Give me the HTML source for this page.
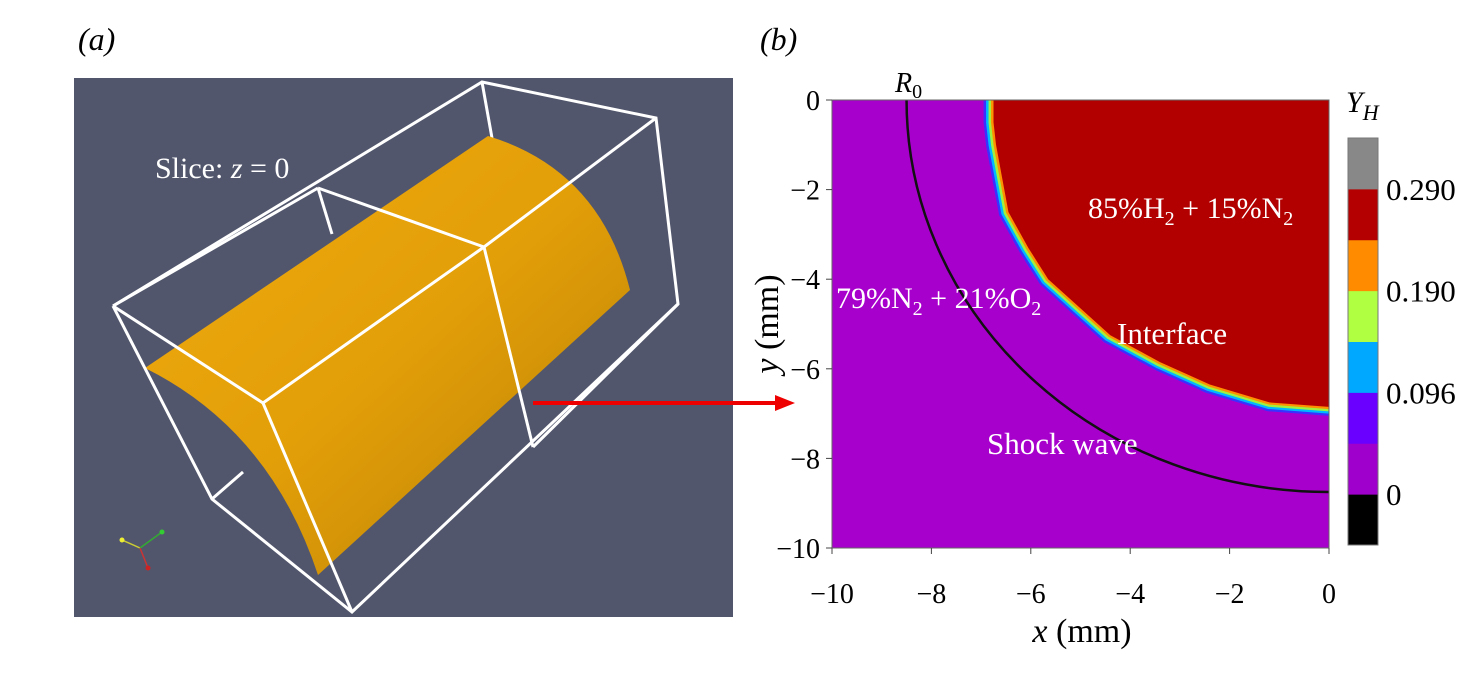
<!DOCTYPE html>
<html><head><meta charset="utf-8"><style>
body{margin:0;background:#fff;width:1469px;height:679px;overflow:hidden;font-family:"Liberation Serif",serif}
svg text{font-family:"Liberation Serif",serif}
</style></head><body>
<svg width="1469" height="679" xmlns="http://www.w3.org/2000/svg">
<defs>
<linearGradient id="cyl" x1="0" y1="0" x2="1" y2="1">
<stop offset="0" stop-color="#f0aa10"/><stop offset="0.5" stop-color="#e39f08"/><stop offset="1" stop-color="#b88006"/>
</linearGradient>
<clipPath id="plotclip"><rect x="832" y="100" width="497" height="448"/></clipPath>
</defs>
<text x="78" y="50" font-size="32" font-style="italic">(a)</text>
<text x="760" y="50" font-size="32" font-style="italic">(b)</text>
<g>
<rect x="74" y="78" width="659" height="539" fill="#52566c"/>
<g stroke="#fff" stroke-width="3" fill="none">
<line x1="482" y1="82" x2="492" y2="138"/><line x1="318" y1="188" x2="332" y2="234"/>
<line x1="212" y1="499" x2="243" y2="472"/>
</g>
<path d="M145,368 L488,136 Q600,170 630,290 L318,575 Q270,430 145,368 Z" fill="url(#cyl)"/>
<g stroke="#fff" stroke-width="3" fill="none">
<polyline points="113,306 482,82 656,118 678,304 352,612 212,499 113,306"/>
<polyline points="113,306 263,403 484,247 656,118"/>
<line x1="318" y1="188" x2="484" y2="247"/>
<line x1="484" y1="247" x2="533" y2="447"/>
<line x1="263" y1="403" x2="352" y2="612"/>
<line x1="533" y1="447" x2="678" y2="304"/>
<line x1="318" y1="188" x2="113" y2="306"/>
</g>
<g stroke-width="1.5">
<line x1="140" y1="548" x2="122" y2="540" stroke="#cc3"/><line x1="140" y1="548" x2="162" y2="532" stroke="#3a3"/><line x1="140" y1="548" x2="148" y2="568" stroke="#c33"/>
<circle cx="122" cy="540" r="2.5" fill="#ee3"/><circle cx="162" cy="532" r="2.5" fill="#3c3"/><circle cx="148" cy="568" r="2.5" fill="#c22"/>
</g>
<text x="155" y="178" font-size="30" fill="#fff">Slice: <tspan font-style="italic">z</tspan> = 0</text>
</g>
<g>
<line x1="533" y1="403" x2="778" y2="403" stroke="#e00" stroke-width="4"/>
<polygon points="775,395 795,403 775,411" fill="#e00"/>
</g>
<g id="chart"></g>
</svg>
<script>
const xTicks=[-10,-8,-6,-4,-2,0];
const yTicks=[0,-2,-4,-6,-8,-10];
const shockR=[8.5,8.75];
const ifaceX=[-6.75,-6.75,-6.7,-6.45,-6.05,-5.65,-5.05,-4.4,-3.4,-2.4,-1.2,0];
const ifaceY=[0,-0.5,-1,-2.5,-3.3,-4,-4.6,-5.25,-5.85,-6.35,-6.75,-6.85];
const cbColors=["#000000","#a000cc","#6a00ff","#00a8ff","#b0ff40","#ff8c00","#b40000","#888888"];
const cbLabels=["0","0.096","0.190","0.290"];
const cbLabelIdx=[1,3,5,7];
const NS="http://www.w3.org/2000/svg";
const g=document.getElementById('chart');
const X0=832,X1=1329,Y0=100,Y1=548;
const sx=v=>X0+(v+10)/10*(X1-X0);
const sy=v=>Y0+(-v)/10*(Y1-Y0);
function mk(t,a,p){const e=document.createElementNS(NS,t);for(const k in a)e.setAttribute(k,a[k]);(p||g).appendChild(e);return e;}
let e=mk('rect',{x:X0,y:Y0,width:X1-X0,height:Y1-Y0,fill:'#a800cc'});


const bands=[["#3a30ff",0.2],["#00b8ff",0.15],["#a0f040",0.1],["#ff9000",0.05],["#b20000",0]];
bands.forEach((b)=>{
 let pp=ifaceX.map((x,j)=>{const r=Math.hypot(x,ifaceY[j]);const k=(r+b[1])/r;return sx(x*k)+','+sy(ifaceY[j]*k);}).join(' ');
 let el=mk('polygon',{points:pp+' '+(X1+10)+','+sy(ifaceY[ifaceY.length-1]-b[1])+' '+(X1+10)+','+(Y0-10)+' '+sx(ifaceX[0]-b[1])+','+(Y0-10),fill:b[0],'clip-path':'url(#plotclip)'});
 
 
});
e=mk('path',{d:`M${sx(-shockR[0])},${sy(0)} A${sx(0)-sx(-shockR[0])},${sy(-shockR[1])-sy(0)} 0 0 0 ${sx(0)},${sy(-shockR[1])}`,fill:'none',stroke:'#111',"stroke-width":2.5});


e=mk('rect',{x:X0,y:Y0,width:X1-X0,height:Y1-Y0,fill:'none',stroke:'#666',"stroke-width":1});


xTicks.forEach(v=>{
 let t=mk('text',{x:sx(v),y:603,"font-size":28,"text-anchor":"middle"});t.textContent=(v<0?'\u2212':'')+Math.abs(v);
 
 
 mk('line',{x1:sx(v),y1:Y1,x2:sx(v),y2:Y1+6,stroke:'#444'});
});
yTicks.forEach(v=>{
 let t=mk('text',{x:820,y:sy(v)+10,"font-size":28,"text-anchor":"end"});t.textContent=(v<0?'\u2212':'')+Math.abs(v);
 
 
 mk('line',{x1:X0-6,y1:sy(v),x2:X0,y2:sy(v),stroke:'#444'});
});
const CB0=545,CB1=138,ch=(CB0-CB1)/cbColors.length;
cbColors.forEach((c,i)=>{
 let r=mk('rect',{x:1348,y:CB0-(i+1)*ch,width:30,height:ch+0.5,fill:c});
 
 
});
e=mk('rect',{x:1348,y:CB1,width:30,height:CB0-CB1,fill:'none',stroke:'#777'});


cbLabels.forEach((l,i)=>{
 const y=CB0-cbLabelIdx[i]*ch;
 let t=mk('text',{x:1386,y:y+11,"font-size":31});t.textContent=l;
 
 
});
function txt(x,y,html,size,name,fill,anchor){let t=mk('text',{x:x,y:y,"font-size":size,fill:fill||'#000',"text-anchor":anchor||'start'});t.innerHTML=html;return t;}
txt(1346,112,'<tspan font-style="italic">Y</tspan><tspan font-style="italic" font-size="22" dy="8">H</tspan>',30,'colorbar-title');
txt(895,92,'<tspan font-style="italic">R</tspan><tspan font-size="20" dy="6">0</tspan>',28,'r0-label');
txt(1082,642,'<tspan font-style="italic">x</tspan> (mm)',34,'x-axis-title','#000','middle');
let yt=txt(0,0,'<tspan font-style="italic">y</tspan> (mm)',34,'y-axis-title','#000','middle');
yt.setAttribute('transform','translate(778,324) rotate(-90)');
txt(1088,218,'85%H<tspan font-size="20" dy="7">2</tspan><tspan dy="-7"> + 15%N</tspan><tspan font-size="20" dy="7">2</tspan>',30,'hydrogen-label','#fff');
txt(836,308,'79%N<tspan font-size="20" dy="7">2</tspan><tspan dy="-7"> + 21%O</tspan><tspan font-size="20" dy="7">2</tspan>',30,'air-label','#fff');
txt(1117,344,'Interface',31,'interface-label','#fff');
txt(987,454,'Shock wave',31,'shock-wave-label','#fff');
</script>
</body></html>
